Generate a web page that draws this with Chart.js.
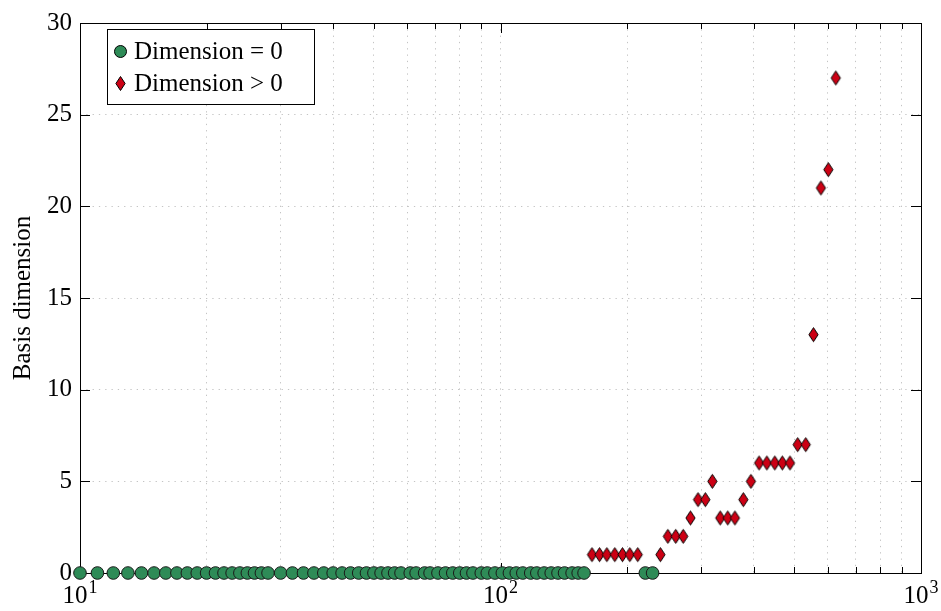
<!DOCTYPE html>
<html>
<head>
<meta charset="utf-8">
<script src="https://cdn.jsdelivr.net/npm/chart.js@4.4.1/dist/chart.umd.min.js"></script>
<style>
  html, body { margin: 0; padding: 0; background: #ffffff; }
  canvas { display: block; }
</style>
</head>
<body>
<canvas id="chart" width="941" height="611"></canvas>
<script>
// Problem sizes whose basis has dimension 0
const zeroDimX = [10, 11, 12, 13, 14, 15, 16, 17, 18, 19, 20, 21, 22, 23, 24, 25, 26, 27, 28,
  30, 32, 34, 36, 38, 40, 42, 44, 46, 48, 50, 52, 54, 56, 58, 61, 63, 66, 68, 71, 74, 77, 80,
  83, 86, 90, 93, 97, 101, 105, 109, 113, 118, 122, 127, 132, 137, 142, 148, 153, 158, 221, 230];
const zeroDimY = [0, 0, 0, 0, 0, 0, 0, 0, 0, 0, 0, 0, 0, 0, 0, 0, 0, 0, 0,
  0, 0, 0, 0, 0, 0, 0, 0, 0, 0, 0, 0, 0, 0, 0, 0, 0, 0, 0, 0, 0, 0, 0,
  0, 0, 0, 0, 0, 0, 0, 0, 0, 0, 0, 0, 0, 0, 0, 0, 0, 0, 0, 0];

// Problem sizes whose basis has positive dimension
const posDimX = [165, 172, 179, 187, 195, 203, 212, 240, 250, 261, 272, 283, 295, 307, 319,
  333, 347, 361, 378, 394, 412, 430, 449, 468, 488, 509, 532, 555, 578, 602, 627];
const posDimY = [1, 1, 1, 1, 1, 1, 1, 1, 2, 2, 2, 3, 4, 4, 5,
  3, 3, 3, 4, 5, 6, 6, 6, 6, 6, 7, 7, 13, 21, 22, 27];

const seriesLabels = ['Dimension = 0', 'Dimension > 0'];
const yAxisTitle = 'Basis dimension';

// Decade ticks of the log axis, written as base and exponent
const xMajorTicks = [10, 100, 1000];
const xMajorBase = ['10', '10', '10'];
const xMajorExp = ['1', '2', '3'];
const yTicks = [0, 5, 10, 15, 20, 25, 30];

const GREEN = '#2e8b57';
const RED = '#cc0014';
const FONT = "'Liberation Serif', 'DejaVu Serif', serif";

// Diamond marker, taller than it is wide
function makeDiamond(hw, hh) {
  const c = document.createElement('canvas');
  c.width = Math.ceil(hw * 2 + 3);
  c.height = Math.ceil(hh * 2 + 3);
  const g = c.getContext('2d');
  const cx = c.width / 2, cy = c.height / 2;
  g.beginPath();
  g.moveTo(cx, cy - hh);
  g.lineTo(cx + hw, cy);
  g.lineTo(cx, cy + hh);
  g.lineTo(cx - hw, cy);
  g.closePath();
  g.fillStyle = RED;
  g.fill();
  g.lineWidth = 1;
  g.strokeStyle = '#000';
  g.stroke();
  return c;
}
const diamond = makeDiamond(4.6, 7);

const toPoints = (xs, ys) => xs.map((x, i) => ({ x: x, y: ys[i] }));

// All tick positions on the log axis: 1..9 times each decade
const xAllTicks = [];
[10, 100].forEach(d => { for (let m = 1; m <= 9; m++) xAllTicks.push(m * d); });
xAllTicks.push(1000);

// Axis frame with inward tick marks, drawn under the markers
const framePlugin = {
  id: 'frame',
  beforeDatasetsDraw(chart) {
    const { ctx, chartArea: a, scales } = chart;
    ctx.save();
    ctx.strokeStyle = '#000';
    ctx.lineWidth = 1;
    ctx.beginPath();
    xAllTicks.forEach(v => {
      const px = Math.round(scales.x.getPixelForValue(v)) + 0.5;
      const len = xMajorTicks.includes(v) ? 10 : 6;
      ctx.moveTo(px, a.bottom); ctx.lineTo(px, a.bottom - len);
      ctx.moveTo(px, a.top); ctx.lineTo(px, a.top + len);
    });
    yTicks.forEach(v => {
      const py = Math.round(scales.y.getPixelForValue(v)) + 0.5;
      ctx.moveTo(a.left, py); ctx.lineTo(a.left + 10, py);
      ctx.moveTo(a.right, py); ctx.lineTo(a.right - 10, py);
    });
    ctx.stroke();
    ctx.strokeRect(Math.round(a.left) + 0.5, Math.round(a.top) + 0.5,
      Math.round(a.right - a.left), Math.round(a.bottom - a.top));
    ctx.restore();
  }
};

// Decade labels of the x axis with raised exponents
const decadeLabelPlugin = {
  id: 'decadeLabels',
  afterDraw(chart) {
    const { ctx, chartArea: a, scales } = chart;
    ctx.save();
    ctx.fillStyle = '#000';
    ctx.textBaseline = 'alphabetic';
    ctx.textAlign = 'left';
    xMajorTicks.forEach((v, i) => {
      const px = scales.x.getPixelForValue(v);
      ctx.font = '25px ' + FONT;
      const wb = ctx.measureText(xMajorBase[i]).width;
      ctx.font = '18px ' + FONT;
      const we = ctx.measureText(xMajorExp[i]).width;
      const x0 = px - (wb + we + 1) / 2;
      ctx.font = '25px ' + FONT;
      ctx.fillText(xMajorBase[i], x0, a.bottom + 30);
      ctx.font = '18px ' + FONT;
      ctx.fillText(xMajorExp[i], x0 + wb + 1, a.bottom + 20);
    });
    ctx.restore();
  }
};

// Legend box in the upper-left corner of the plot
const legendPlugin = {
  id: 'boxLegend',
  afterDraw(chart) {
    const { ctx } = chart;
    const bx = 107.5, by = 29.5, bw = 207, bh = 75;
    ctx.save();
    ctx.fillStyle = '#fff';
    ctx.fillRect(bx, by, bw, bh);
    ctx.strokeStyle = '#000';
    ctx.lineWidth = 1;
    ctx.strokeRect(bx, by, bw, bh);

    // circle entry
    ctx.beginPath();
    ctx.arc(120.5, 51.5, 6, 0, Math.PI * 2);
    ctx.fillStyle = GREEN;
    ctx.fill();
    ctx.stroke();
    // diamond entry
    ctx.drawImage(diamond, 120.5 - diamond.width / 2, 83.5 - diamond.height / 2);

    ctx.fillStyle = '#000';
    ctx.font = '25px ' + FONT;
    ctx.textAlign = 'left';
    ctx.textBaseline = 'alphabetic';
    ctx.fillText(chart.data.datasets[0].label, 134, 59);
    ctx.fillText(chart.data.datasets[1].label, 134, 91);
    ctx.restore();
  }
};

new Chart(document.getElementById('chart'), {
  type: 'scatter',
  data: {
    datasets: [
      {
        label: seriesLabels[0],
        data: toPoints(zeroDimX, zeroDimY),
        pointStyle: 'circle',
        pointRadius: 6.3,
        pointHoverRadius: 6.3,
        backgroundColor: GREEN,
        borderColor: '#1a1a1a',
        borderWidth: 1,
        clip: false
      },
      {
        label: seriesLabels[1],
        data: toPoints(posDimX, posDimY),
        pointStyle: diamond,
        pointRadius: 7,
        backgroundColor: RED,
        borderColor: '#000',
        clip: false
      }
    ]
  },
  options: {
    responsive: false,
    devicePixelRatio: 1,
    animation: false,
    layout: { padding: { left: 0, right: 20, top: 12, bottom: 0 } },
    plugins: {
      legend: { display: false },
      tooltip: { enabled: false }
    },
    scales: {
      x: {
        type: 'logarithmic',
        min: 10,
        max: 1000,
        afterBuildTicks(scale) {
          scale.ticks = xAllTicks.map(v => ({ value: v, major: xMajorTicks.includes(v) }));
        },
        afterFit(scale) { scale.height = 38; },
        ticks: {
          autoSkip: false,
          maxRotation: 0,
          minRotation: 0,
          callback() { return ''; }
        },
        grid: { color: '#c4c4c4', lineWidth: 1, drawTicks: false },
        border: { display: false, dash: [1.3, 5] }
      },
      y: {
        min: 0,
        max: 30,
        afterBuildTicks(scale) {
          scale.ticks = yTicks.map(v => ({ value: v }));
        },
        afterFit(scale) { scale.width = 80; },
        ticks: {
          padding: 8,
          color: '#000',
          font: { family: FONT, size: 25 }
        },
        title: {
          display: true,
          text: yAxisTitle,
          color: '#000',
          font: { family: FONT, size: 25 },
          padding: { top: 8, bottom: 0 }
        },
        grid: { color: '#c4c4c4', lineWidth: 1, drawTicks: false },
        border: { display: false, dash: [1.3, 5] }
      }
    }
  },
  plugins: [framePlugin, decadeLabelPlugin, legendPlugin]
});
</script>
</body>
</html>
